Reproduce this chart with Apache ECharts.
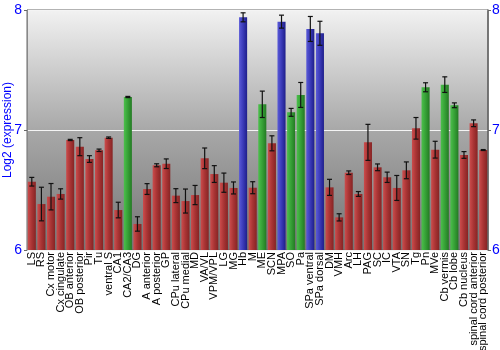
<!DOCTYPE html>
<html><head><meta charset="utf-8">
<script src="https://cdn.jsdelivr.net/npm/echarts@6/dist/echarts.min.js"></script>
<style>html,body{margin:0;padding:0;background:#fff}#c{width:500px;height:350px}</style>
</head><body><div id="c"></div>
<script>
var categories = ["LS","RS","Cx motor","Cx cingulate","OB anterior","OB posterior","Pir","Tu","ventral S","CA1","CA2/CA3","DG","A anterior","A posterior","GP","CPu lateral","CPu medial","MD","VA/VL","VPM/VPL","LG","MG","Hb","M","ME","SCN","MPA","SO","Pa","SPa ventral","SPa dorsal","DM","VMH","Arc","LH","PAG","SC","IC","VTA","SN","Tg","Pn","MVe","Cb vermis","Cb lobe","Cb nucleus","spinal cord anterior","spinal cord posterior"];
var values = [6.569,6.383,6.444,6.467,6.917,6.861,6.758,6.831,6.936,6.333,7.275,6.217,6.508,6.706,6.719,6.453,6.408,6.458,6.764,6.633,6.561,6.517,7.939,6.519,7.214,6.889,7.903,7.147,7.292,7.842,7.806,6.522,6.272,6.644,6.467,6.897,6.689,6.606,6.517,6.664,7.014,7.356,6.836,7.378,7.206,6.792,7.056,6.833];
var errors = [0.036,0.14,0.11,0.043,0.005,0.075,0.028,0.01,0.006,0.065,0.005,0.06,0.045,0.0125,0.04,0.058,0.1,0.08,0.086,0.07,0.08,0.05,0.0375,0.05,0.11,0.0625,0.054,0.033,0.104,0.104,0.1,0.067,0.03,0.015,0.02,0.15,0.028,0.043,0.104,0.07,0.09,0.0375,0.07,0.065,0.02,0.028,0.028,0.004];
var groups = ["r","r","r","r","r","r","r","r","r","r","g","r","r","r","r","r","r","r","r","r","r","r","b","r","g","r","b","g","g","b","b","r","r","r","r","r","r","r","r","r","r","g","r","g","g","r","r","r"];
var yTicks = [6,7,8];

var palette = {
  r: ['#cc4c4c','#a83434','#862424'],
  g: ['#4cc04c','#36a036','#237a23'],
  b: ['#5a5ad8','#3a3ab8','#1e1e8a']
};
function grad(g){
  var p = palette[g];
  return new echarts.graphic.LinearGradient(0,0,1,0,[
    {offset:0,color:p[0]},{offset:0.5,color:p[1]},{offset:1,color:p[2]}]);
}
var barData = values.map(function(v,i){
  return {value:v,itemStyle:{color:grad(groups[i])}};
});
var errData = values.map(function(v,i){ return [i, v-errors[i], v+errors[i]]; });

var chart = echarts.init(document.getElementById('c'));
chart.setOption({
  animation:false,
  grid:{left:27,right:12,top:10,bottom:100,outerBoundsMode:'none',containLabel:false,show:true,borderColor:'#666',borderWidth:1,
    backgroundColor:new echarts.graphic.LinearGradient(0,0,0,1,[
      {offset:0,color:'#f2f2f2'},{offset:0.5,color:'#a8a8a8'},{offset:1,color:'#747474'}])},
  xAxis:{type:'category',data:categories,
    axisLine:{show:false},axisTick:{show:false},
    axisLabel:{rotate:90,interval:0,color:'#000',fontSize:11,fontFamily:'Liberation Sans, Arial, sans-serif',margin:2}},
  yAxis:[{type:'value',min:6,max:8,interval:1,
    name:'Log2 (expression)',nameLocation:'middle',nameGap:13,nameMoveOverlap:false,
    nameTextStyle:{color:'#0000ff',fontSize:12,fontFamily:'Liberation Sans, Arial, sans-serif'},
    axisLine:{show:true,lineStyle:{color:'#888'}},
    axisTick:{show:true,length:3,lineStyle:{color:'#666'}},
    axisLabel:{color:'#0000ff',fontSize:14,margin:5,fontFamily:'Liberation Sans, Arial, sans-serif'},
    splitLine:{show:true,lineStyle:{color:'#f4f4f4',width:1}}},
   {type:'value',min:6,max:8,interval:1,position:'right',
    axisLine:{show:true,lineStyle:{color:'#666',width:1.5}},
    axisTick:{show:true,length:3,lineStyle:{color:'#666'}},
    axisLabel:{color:'#0000ff',fontSize:14,margin:4,fontFamily:'Liberation Sans, Arial, sans-serif'},
    splitLine:{show:false}}],
  series:[
    {type:'bar',data:barData,barWidth:'84%'},
    {type:'custom',data:errData,z:10,
     renderItem:function(params,api){
       var x=api.value(0);
       var lo=api.coord([x,api.value(1)]);
       var hi=api.coord([x,api.value(2)]);
       var h=2.5;
       var st={stroke:'#111',lineWidth:1.2};
       return {type:'group',children:[
         {type:'line',shape:{x1:lo[0],y1:lo[1],x2:hi[0],y2:hi[1]},style:st},
         {type:'line',shape:{x1:lo[0]-h,y1:lo[1],x2:lo[0]+h,y2:lo[1]},style:st},
         {type:'line',shape:{x1:hi[0]-h,y1:hi[1],x2:hi[0]+h,y2:hi[1]},style:st}
       ]};
     }}
  ]
});
</script></body></html>
